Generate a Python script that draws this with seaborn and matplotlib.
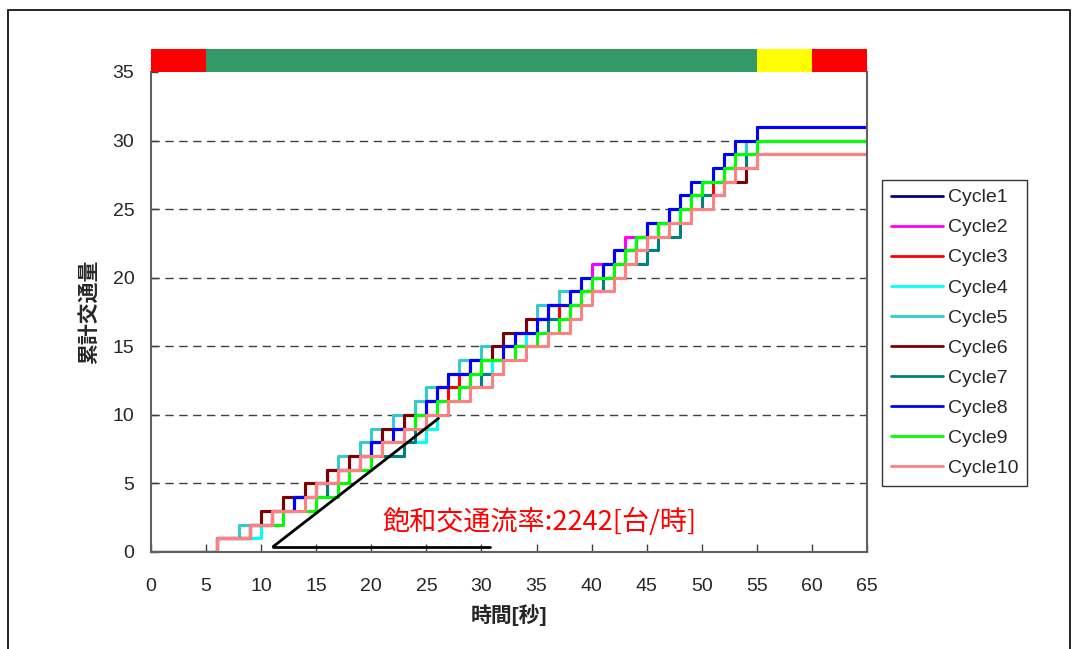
import matplotlib
matplotlib.use("Agg")
import matplotlib.pyplot as plt
from matplotlib.patches import Rectangle
import pandas as pd
import seaborn as sns

# Times [s] at which each successive vehicle passes the stop line, per signal cycle
cycle_names = [f"Cycle{i}" for i in range(1, 11)]
cycle1 = [6, 9, 11, 12, 14, 16, 18, 20, 21, 23, 24, 26, 27, 29, 32, 33, 35, 36, 38, 39, 41, 42, 44, 45, 47, 48, 49, 51, 52, 53, 55]
cycle2 = [6, 9, 11, 13, 15, 16, 18, 20, 22, 23, 25, 26, 28, 29, 31, 33, 34, 36, 37, 39, 40, 42, 43, 45, 47, 49, 51, 52, 53, 55]
cycle3 = [6, 9, 11, 13, 15, 17, 19, 21, 22, 24, 25, 27, 28, 31, 32, 34, 35, 37, 38, 40, 41, 43, 44, 46, 47, 49, 51, 52, 54, 55]
cycle4 = [6, 10, 11, 13, 15, 17, 20, 23, 25, 26, 27, 28, 30, 31, 33, 34, 36, 38, 39, 40, 42, 43, 44, 46, 48, 49, 50, 52, 53, 55]
cycle5 = [6, 8, 10, 12, 14, 16, 17, 19, 20, 22, 24, 25, 27, 28, 30, 32, 34, 35, 37, 39, 41, 42, 44, 45, 47, 48, 49, 51, 53, 54]
cycle6 = [6, 9, 10, 12, 14, 16, 18, 20, 21, 23, 25, 26, 27, 29, 31, 32, 34, 36, 39, 41, 42, 43, 45, 46, 48, 50, 52, 54, 55]
cycle7 = [6, 9, 11, 13, 16, 17, 19, 23, 24, 25, 27, 28, 30, 32, 33, 35, 36, 38, 39, 41, 43, 45, 46, 48, 49, 50, 52, 53, 54]
cycle8 = [6, 9, 11, 13, 15, 17, 19, 20, 22, 24, 25, 26, 27, 29, 32, 33, 35, 36, 38, 39, 41, 42, 44, 45, 47, 48, 49, 51, 52, 53, 55]
cycle9 = [6, 9, 12, 15, 17, 18, 20, 21, 23, 24, 26, 28, 29, 30, 33, 35, 37, 38, 39, 40, 42, 43, 44, 46, 48, 49, 50, 52, 53, 55]
cycle10 = [6, 9, 11, 14, 15, 17, 19, 21, 23, 25, 27, 29, 31, 32, 34, 36, 38, 39, 40, 42, 43, 44, 45, 47, 49, 51, 52, 53, 55]
arrivals = [cycle1, cycle2, cycle3, cycle4, cycle5, cycle6, cycle7, cycle8, cycle9, cycle10]

cycle_colors = ["#000080", "#FF00FF", "#FF0000", "#00FFFF", "#33CCCC",
                "#800000", "#008080", "#0000FF", "#00FF00", "#FF8080"]

# Signal phases along the top: (start, end, colour)
phase_start = [0, 5, 55, 60]
phase_end = [5, 55, 60, 65]
phase_color = ["#FF0000", "#339966", "#FFFF00", "#FF0000"]

x_ticks = list(range(0, 70, 5))
y_ticks = list(range(0, 40, 5))
SAT_FLOW = 2242  # veh/h
T_END = 65

# Cumulative count table (long format)
rows = []
for name, times in zip(cycle_names, arrivals):
    xs = [0] + times + [T_END]
    ys = [0] + list(range(1, len(times) + 1)) + [len(times)]
    for x, y in zip(xs, ys):
        rows.append({"time": x, "count": y, "cycle": name})
df = pd.DataFrame(rows)

sns.set_theme(style="white")
plt.rcParams["font.family"] = ["Liberation Sans", "Noto Sans CJK JP"]

fig = plt.figure(figsize=(10.8, 6.49), dpi=100)
ax = fig.add_axes([151 / 1080, 1 - 552 / 649, (867 - 151) / 1080, (552 - 72) / 649])

# Horizontal dashed grid
for yv in y_ticks[1:-1]:
    ax.axhline(yv, color="#404040", lw=1.0, dashes=(6, 4), zorder=0.5)

sns.lineplot(data=df, x="time", y="count", hue="cycle", hue_order=cycle_names,
             palette=cycle_colors, estimator=None, drawstyle="steps-post",
             lw=2.2, ax=ax, legend=True)

ax.set_xlim(0, T_END)
ax.set_ylim(0, 35)
ax.set_xticks(x_ticks)
ax.set_yticks(y_ticks)
ax.tick_params(axis="x", direction="in", length=6, width=1, color="#404040",
               pad=19, labelsize=14, bottom=True)
ax.tick_params(axis="y", direction="in", length=5, width=1, color="#404040",
               pad=12, labelsize=14, left=True)
for side in ["left", "bottom", "right"]:
    ax.spines[side].set_color("#606060")
    ax.spines[side].set_linewidth(1.5)
ax.spines["top"].set_visible(False)

ax.set_xlabel("時間[秒]", fontsize=15, labelpad=6, fontweight="bold")
ax.set_ylabel("累計交通量", fontsize=15, labelpad=10, fontweight="bold")

# Signal phase bar above the plotting area
for s, e, c in zip(phase_start, phase_end, phase_color):
    ax.add_patch(Rectangle((s, 35.0), e - s, 1.65, facecolor=c, edgecolor="none",
                           clip_on=False, zorder=5))

# Saturation flow slope triangle
x0, y0 = 11.1, 0.4
run = 15.0
rise = SAT_FLOW / 3600 * run
ax.plot([x0, x0 + run], [y0, y0 + rise], color="black", lw=2, zorder=6)
ax.plot([x0, 30.8], [y0, y0], color="black", lw=2, zorder=6)
ax.text(21.0, 2.2, f"飽和交通流率:{SAT_FLOW}[台/時]", color="#FF0000",
        fontsize=19.5, va="center", ha="left", family=["Noto Sans CJK JP"], zorder=7)

handles, labels = ax.get_legend_handles_labels()
for h in handles:
    h.set_linewidth(2)
leg = ax.legend(handles, labels, loc="upper left",
                bbox_to_anchor=(882 / 1080, 1 - 180 / 649), bbox_transform=fig.transFigure,
                frameon=True, fancybox=False, edgecolor="black", fontsize=14,
                handlelength=2.7, handletextpad=0.25, labelspacing=0.64,
                borderpad=0.45, borderaxespad=0)
leg.get_frame().set_linewidth(1.0)

# Outer frame of the chart area
fig.patches.append(Rectangle((8 / 1080, -0.05), (1070 - 8) / 1080, 1.05 - 10 / 649,
                             transform=fig.transFigure, fill=False,
                             edgecolor="black", lw=1.2))

fig.savefig("out.png", dpi=100)
